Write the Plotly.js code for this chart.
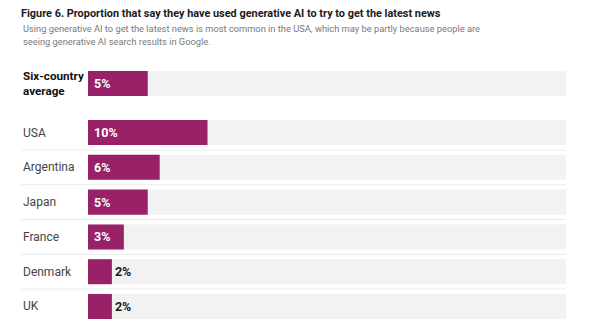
<!DOCTYPE html>
<html>
<head>
<meta charset="utf-8">
<script src="https://cdn.plot.ly/plotly-3.0.1.min.js"></script>
<style>html,body{margin:0;padding:0;background:#fff;}#chart{width:613px;height:335px;}</style>
</head>
<body>
<div id="chart"></div>
<script>
const categories = ["Six-country<br>average", "USA", "Argentina", "Japan", "France", "Denmark", "UK"];
const values = [5, 10, 6, 5, 3, 2, 2];
const maxScale = 40;
const titleText = 'Figure 6. Proportion that say they have used generative AI to try to get the latest news';
const subtitleLines = [
  'Using generative AI to get the latest news is most common in the USA, which may be partly because people are',
  'seeing generative AI search results in Google.'
];

const W = 613, H = 335;
const L = 88, R = 47, T = 71, B = 16;
const plotW = W - L - R, plotH = H - T - B;
// positions: average row set apart from the country rows
const positions = categories.map((c, i) => i === 0 ? -1.41 : i - 1);
const textPos = values.map(v => v >= 3 ? 'inside' : 'outside');
const textTpl = values.map(v => v >= 3 ? '\u00a0%{x}%' : '%{x}%');

const bg = {
  type: 'bar', orientation: 'h',
  x: categories.map(() => maxScale), y: positions,
  width: 0.72, marker: {color: '#f2f2f2'},
  hoverinfo: 'skip', showlegend: false
};
const fg = {
  type: 'bar', orientation: 'h',
  x: values, y: positions, width: 0.72,
  marker: {color: '#982167'},
  texttemplate: textTpl, textposition: textPos,
  insidetextanchor: 'start', constraintext: 'none', cliponaxis: false,
  insidetextfont: {family: 'Roboto', size: 12.5, color: '#ffffff', weight: 700},
  outsidetextfont: {family: 'Roboto', size: 12.5, color: '#1a1a1a', weight: 700},
  hoverinfo: 'skip', showlegend: false
};

const px2x = px => (px - L) / plotW;
const py2y = py => 1 - (py - T) / plotH;
const labelX = px2x(21);
const annotations = categories.map((c, i) => ({
  text: c, xref: 'paper', yref: 'y', x: labelX, y: positions[i],
  xanchor: 'left', yanchor: 'middle', align: 'left', showarrow: false,
  font: {family: 'Roboto', size: i === 0 ? 11.7 : 12, color: i === 0 ? '#111' : '#444', weight: i === 0 ? 700 : 400}
}));
const subY = [28, 41.5];
subtitleLines.forEach((s, i) => annotations.push({
  text: s, xref: 'paper', yref: 'paper', x: labelX, y: py2y(subY[i]),
  xanchor: 'left', yanchor: 'middle', align: 'left', showarrow: false,
  font: {family: 'Roboto', size: 9.3, color: '#7a7a7a'}
}));

const shapes = [];
for (let i = 1; i < categories.length - 1; i++) {
  shapes.push({type: 'line', xref: 'paper', yref: 'y', x0: labelX, x1: 1,
    y0: positions[i] + 0.5, y1: positions[i] + 0.5,
    line: {color: '#ececec', width: 1}});
}

const layout = {
  width: W, height: H,
  margin: {l: L, r: R, t: T, b: B, pad: 0},
  paper_bgcolor: '#fff', plot_bgcolor: '#fff',
  barmode: 'overlay',
  title: {text: '<b>' + titleText + '</b>',
    xref: 'container', yref: 'container', x: 21 / W, y: 1 - 13 / H,
    xanchor: 'left', yanchor: 'middle',
    font: {family: 'Roboto', size: 10.9, color: '#1a1a1a'}},
  xaxis: {range: [0, maxScale], visible: false, fixedrange: true},
  yaxis: {range: [5.36, -1.77], visible: false, fixedrange: true},
  annotations: annotations, shapes: shapes
};

Plotly.newPlot('chart', [bg, fg], layout, {displayModeBar: false, staticPlot: true});
</script>
</body>
</html>
